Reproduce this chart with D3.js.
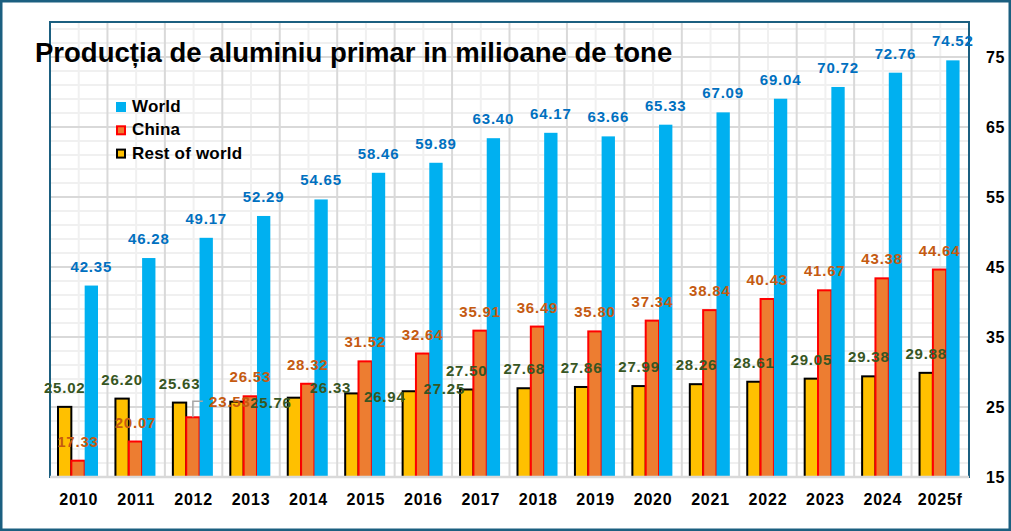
<!DOCTYPE html>
<html>
<head>
<meta charset="utf-8">
<script src="https://cdn.jsdelivr.net/npm/d3@7"></script>
<style>
  body { margin: 0; background: #fff; }
  svg { display: block; font-family: 'Liberation Sans', Arial, sans-serif; }
</style>
</head>
<body>
<div id="chart"></div>
<script>
const years = ['2010', '2011', '2012', '2013', '2014', '2015', '2016', '2017',
  '2018', '2019', '2020', '2021', '2022', '2023', '2024', '2025f']
const world = [42.35, 46.28, 49.17, 52.29, 54.65, 58.46, 59.89, 63.40,
  64.17, 63.66, 65.33, 67.09, 69.04, 70.72, 72.76, 74.52]
const china = [17.33, 20.07, 23.53, 26.53, 28.32, 31.52, 32.64, 35.91,
  36.49, 35.80, 37.34, 38.84, 40.43, 41.67, 43.38, 44.64]
const restOfWorld = [25.02, 26.20, 25.63, 25.76, 26.33, 26.94, 27.25, 27.50,
  27.68, 27.86, 27.99, 28.26, 28.61, 29.05, 29.38, 29.88]
const yTicks = [15, 25, 35, 45, 55, 65, 75]
const title = 'Producția de aluminiu primar in milioane de tone'

const width = 1011
const height = 531
const plot = { left: 50, right: 969, top: 22, bottom: 477 }
const teal = '#1b5f80'

// bar order inside a year: rest, china, world
const series = [
  { key: 'rest', name: 'Rest of world', values: restOfWorld, fill: '#ffc000', stroke: '#000', label: '#375623' },
  { key: 'china', name: 'China', values: china, fill: '#ed7d31', stroke: '#ff0000', label: '#c55a11' },
  { key: 'world', name: 'World', values: world, fill: '#00b0f0', stroke: 'none', label: '#0070c0' }
]

// hand-moved labels in the original (dx, dy from the default spot)
const labelNudge = {
  'rest-2013': [34, 20], 'rest-2014': [36, 9], 'rest-2015': [33, 23], 'rest-2016': [35, 17],
  'china-2012': [37, 4]
}

const svg = d3.select('#chart').append('svg')
  .attr('width', width)
  .attr('height', height)
  .attr('viewBox', [0, 0, width, height])

svg.append('rect')
  .attr('x', 1.25).attr('y', 1.25)
  .attr('width', width - 2.5).attr('height', height - 2.5)
  .attr('fill', '#fff')
  .attr('stroke', teal)
  .attr('stroke-width', 2.5)

const x = d3.scaleBand().domain(years).range([plot.left, plot.right])
const inner = d3.scaleBand().domain(series.map(s => s.key)).range([8, 48])
const y = d3.scaleLinear().domain([15, 80]).range([plot.bottom, plot.top])

// grid
const grid = svg.append('g')
const minorY = d3.range(17, 80, 2)
grid.selectAll('.minor-y').data(minorY).join('line')
  .attr('x1', plot.left).attr('x2', plot.right)
  .attr('y1', d => y(d)).attr('y2', d => y(d))
  .attr('stroke', '#f0f0f0').attr('stroke-width', 2)
grid.selectAll('.minor-x').data(years).join('line')
  .attr('x1', d => x(d) + x.bandwidth() / 2).attr('x2', d => x(d) + x.bandwidth() / 2)
  .attr('y1', plot.top).attr('y2', plot.bottom)
  .attr('stroke', '#f0f0f0').attr('stroke-width', 2)
grid.selectAll('.major-y').data(yTicks).join('line')
  .attr('x1', plot.left).attr('x2', plot.right)
  .attr('y1', d => y(d)).attr('y2', d => y(d))
  .attr('stroke', '#d9d9d9').attr('stroke-width', 2)
grid.selectAll('.major-x').data(years.slice(1)).join('line')
  .attr('x1', d => x(d)).attr('x2', d => x(d))
  .attr('y1', plot.top).attr('y2', plot.bottom)
  .attr('stroke', '#d9d9d9').attr('stroke-width', 2)

svg.append('rect')
  .attr('x', plot.left).attr('y', plot.top)
  .attr('width', plot.right - plot.left).attr('height', plot.bottom - plot.top)
  .attr('fill', 'none')
  .attr('stroke', teal)
  .attr('stroke-width', 2)

// bars
const bars = svg.append('g')
series.forEach(s => {
  bars.append('g').selectAll('rect')
    .data(s.values.map((v, i) => ({ year: years[i], v })))
    .join('rect')
    .attr('x', d => x(d.year) + inner(s.key))
    .attr('y', d => y(d.v))
    .attr('width', inner.bandwidth())
    .attr('height', d => y(15) - y(d.v))
    .attr('fill', s.fill)
    .attr('stroke', s.stroke)
    .attr('stroke-width', s.stroke === 'none' ? 0 : 2)
})

svg.append('line')
  .attr('x1', plot.left).attr('x2', plot.right)
  .attr('y1', plot.bottom).attr('y2', plot.bottom)
  .attr('stroke', '#d9d9d9').attr('stroke-width', 2.5)

// leader line for the moved 2012 China label
const cx2012 = x('2012') + inner('china') + inner.bandwidth() / 2
svg.append('path')
  .attr('d', `M${cx2012},${y(china[2])} V${y(china[2]) - 16} H${cx2012 + 10}`)
  .attr('fill', 'none')
  .attr('stroke', '#a6a6a6')
  .attr('stroke-width', 1.5)

// data labels
const labels = svg.append('g')
  .attr('font-weight', 'bold')
  .attr('font-size', 15)
  .attr('letter-spacing', 0.8)
  .attr('text-anchor', 'middle')
series.forEach(s => {
  labels.append('g').selectAll('text')
    .data(s.values.map((v, i) => ({ year: years[i], v })))
    .join('text')
    .attr('x', d => {
      const n = labelNudge[`${s.key}-${d.year}`]
      return x(d.year) + inner(s.key) + inner.bandwidth() / 2 + (n ? n[0] : 0)
    })
    .attr('y', d => {
      const n = labelNudge[`${s.key}-${d.year}`]
      return y(d.v) - 14 + (n ? n[1] : 0)
    })
    .attr('fill', s.label)
    .text(d => d.v.toFixed(2))
})

// axes
const xAxis = svg.append('g')
  .attr('transform', `translate(0, ${plot.bottom})`)
  .call(d3.axisBottom(x).tickSize(0).tickPadding(17))
xAxis.select('.domain').remove()
xAxis.selectAll('text')
  .attr('font-family', "'Liberation Sans', Arial, sans-serif")
  .attr('font-size', 16)
  .attr('font-weight', 'bold')
  .attr('letter-spacing', 0.8)
  .attr('fill', '#000')

const yAxis = svg.append('g')
  .attr('transform', `translate(${plot.right}, 0)`)
  .call(d3.axisRight(y).tickValues(yTicks).tickSize(0).tickPadding(17))
yAxis.select('.domain').remove()
yAxis.selectAll('text')
  .attr('font-family', "'Liberation Sans', Arial, sans-serif")
  .attr('font-size', 16)
  .attr('font-weight', 'bold')
  .attr('letter-spacing', 0.6)
  .attr('fill', '#000')

// legend
const legend = svg.append('g').attr('transform', 'translate(116, 102)')
const legendOrder = [series[2], series[1], series[0]]
legendOrder.forEach((s, i) => {
  const row = legend.append('g').attr('transform', `translate(0, ${i * 23.3})`)
  row.append('rect')
    .attr('x', s.stroke === 'none' ? 0 : 1).attr('y', s.stroke === 'none' ? 0 : 1)
    .attr('width', s.stroke === 'none' ? 10 : 8).attr('height', s.stroke === 'none' ? 10 : 8)
    .attr('fill', s.fill)
    .attr('stroke', s.stroke)
    .attr('stroke-width', 2)
  row.append('text')
    .attr('x', 16).attr('y', 10)
    .attr('font-size', 17)
    .attr('font-weight', 'bold')
    .attr('letter-spacing', 0.2)
    .attr('fill', '#000')
    .text(s.name)
})

svg.append('text')
  .attr('x', 35).attr('y', 61.5)
  .attr('font-size', 27.5)
  .attr('font-weight', 'bold')
  .attr('fill', '#000')
  .text(title)
</script>
</body>
</html>
